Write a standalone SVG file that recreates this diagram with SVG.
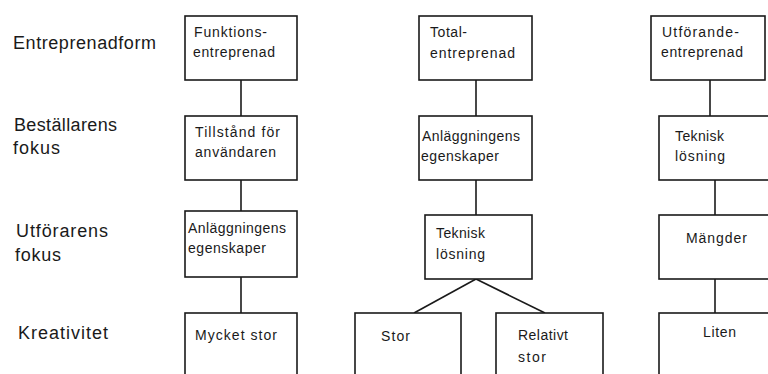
<svg xmlns="http://www.w3.org/2000/svg" width="768" height="374" viewBox="0 0 768 374">
<style>
  rect.box { fill: #ffffff; stroke: #1a1a1a; stroke-width: 1.6; }
  .conn line { stroke: #1a1a1a; stroke-width: 1.6; }
  text { font-family: "Liberation Sans", Arial, sans-serif; fill: #1a1a1a; }
  text.lbl { font-size: 18px; }
  text.t { font-size: 14px; }
</style>
<rect width="768" height="374" fill="#ffffff"/>
<g id="row-labels">
  <text class="lbl" x="13" y="49" textLength="143" lengthAdjust="spacing">Entreprenadform</text>
  <text class="lbl" x="14" y="131" textLength="103" lengthAdjust="spacing">Beställarens</text>
  <text class="lbl" x="13" y="154" textLength="47" lengthAdjust="spacing">fokus</text>
  <text class="lbl" x="16" y="237" textLength="92" lengthAdjust="spacing">Utförarens</text>
  <text class="lbl" x="15" y="261" textLength="46" lengthAdjust="spacing">fokus</text>
  <text class="lbl" x="18" y="339" textLength="90" lengthAdjust="spacing">Kreativitet</text>
</g>
<g class="conn" id="connectors">
  <line x1="241" y1="80" x2="241" y2="116"/>
  <line x1="241" y1="180" x2="241" y2="211"/>
  <line x1="241" y1="277" x2="241" y2="313"/>
  <line x1="476" y1="80" x2="476" y2="116"/>
  <line x1="476" y1="180" x2="476" y2="215"/>
  <line x1="476" y1="279" x2="414" y2="313"/>
  <line x1="476" y1="279" x2="545" y2="313"/>
  <line x1="710" y1="80" x2="710" y2="116"/>
  <line x1="715" y1="180" x2="715" y2="215"/>
  <line x1="715" y1="279" x2="715" y2="313"/>
</g>
<g id="funktionsentreprenad">
  <rect class="box" x="185" y="16" width="112" height="64"/>
  <text class="t" x="194" y="37" textLength="73" lengthAdjust="spacing">Funktions-</text>
  <text class="t" x="193" y="57" textLength="82" lengthAdjust="spacing">entreprenad</text>
</g>
<g id="tillstand">
  <rect class="box" x="185" y="116" width="112" height="64"/>
  <text class="t" x="195" y="137" textLength="85" lengthAdjust="spacing">Tillstånd för</text>
  <text class="t" x="195" y="157" textLength="81" lengthAdjust="spacing">användaren</text>
</g>
<g id="anlaggning1">
  <rect class="box" x="185" y="211" width="112" height="66"/>
  <text class="t" x="188" y="233" textLength="98" lengthAdjust="spacing">Anläggningens</text>
  <text class="t" x="188" y="253" textLength="78" lengthAdjust="spacing">egenskaper</text>
</g>
<g id="mycketstor">
  <rect class="box" x="185" y="313" width="112" height="80"/>
  <text class="t" x="195" y="340" textLength="82" lengthAdjust="spacing">Mycket stor</text>
</g>
<g id="totalentreprenad">
  <rect class="box" x="419" y="16" width="113" height="64"/>
  <text class="t" x="430" y="37" textLength="37" lengthAdjust="spacing">Total-</text>
  <text class="t" x="430" y="58" textLength="85" lengthAdjust="spacing">entreprenad</text>
</g>
<g id="anlaggning2">
  <rect class="box" x="419" y="116" width="113" height="64"/>
  <text class="t" x="422" y="141" textLength="98" lengthAdjust="spacing">Anläggningens</text>
  <text class="t" x="421" y="161" textLength="78" lengthAdjust="spacing">egenskaper</text>
</g>
<g id="teknisk2">
  <rect class="box" x="425" y="215" width="107" height="64"/>
  <text class="t" x="436" y="238" textLength="49" lengthAdjust="spacing">Teknisk</text>
  <text class="t" x="436" y="259" textLength="49" lengthAdjust="spacing">lösning</text>
</g>
<g id="stor">
  <rect class="box" x="355" y="313" width="106" height="80"/>
  <text class="t" x="381" y="341" textLength="29" lengthAdjust="spacing">Stor</text>
</g>
<g id="relativtstor">
  <rect class="box" x="496" y="313" width="107" height="80"/>
  <text class="t" x="518" y="340" textLength="50" lengthAdjust="spacing">Relativt</text>
  <text class="t" x="518" y="362" textLength="28" lengthAdjust="spacing">stor</text>
</g>
<g id="utforandeentreprenad">
  <rect class="box" x="651" y="16" width="114" height="64"/>
  <text class="t" x="662" y="37" textLength="77" lengthAdjust="spacing">Utförande-</text>
  <text class="t" x="661" y="57" textLength="82" lengthAdjust="spacing">entreprenad</text>
</g>
<g id="teknisk3">
  <rect class="box" x="659" y="116" width="120" height="64"/>
  <text class="t" x="675" y="141" textLength="49" lengthAdjust="spacing">Teknisk</text>
  <text class="t" x="675" y="161" textLength="50" lengthAdjust="spacing">lösning</text>
</g>
<g id="mangder">
  <rect class="box" x="659" y="215" width="120" height="64"/>
  <text class="t" x="686" y="243" textLength="61" lengthAdjust="spacing">Mängder</text>
</g>
<g id="liten">
  <rect class="box" x="659" y="313" width="120" height="80"/>
  <text class="t" x="703" y="337" textLength="33" lengthAdjust="spacing">Liten</text>
</g>
</svg>
